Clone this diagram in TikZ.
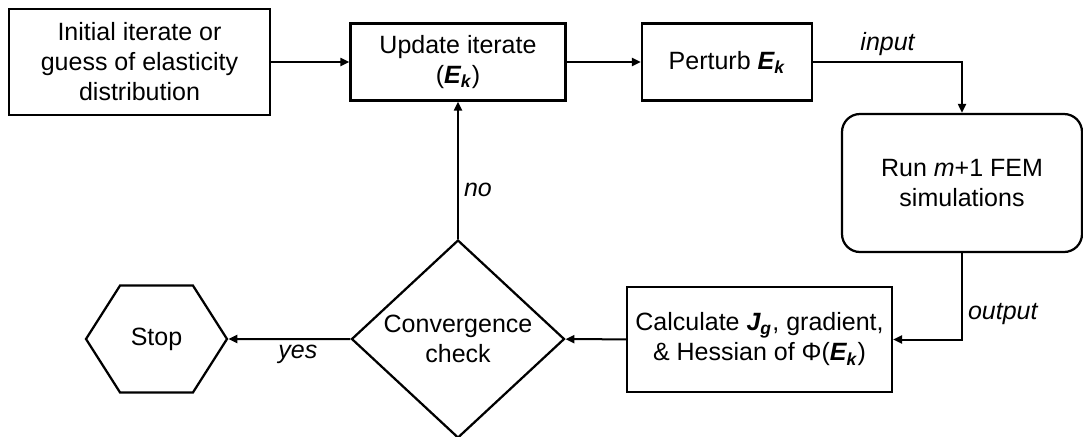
\documentclass[tikz,border=0pt]{standalone}
\usepackage{fontspec}
\setmainfont{Liberation Sans}
\usetikzlibrary{shapes,shapes.symbols,arrows.meta}
\tikzstyle{block} = [draw, rectangle, line width=0.9pt, align=center]
\tikzstyle{roundblock} = [block, rounded corners=7.2pt]
\tikzstyle{decision} = [draw, diamond, line width=0.9pt, align=center, inner sep=0pt, aspect=1.08]
\tikzstyle{terminal} = [draw, signal, signal to=east and west, signal pointer angle=115, line width=0.9pt]
\tikzstyle{lbl} = [font=\itshape, inner sep=2pt]
\newcommand{\Ek}{\textbf{\textit{E\textsubscript{k}}}}
\newcommand{\Jg}{\textbf{\textit{J\textsubscript{g}}}}

\begin{document}
\begin{tikzpicture}[->,>={Triangle[length=3.6pt,width=3.2pt]},line width=0.8pt,node distance=100pt]

    \useasboundingbox (0,0) rectangle (433.2pt,-174.4pt);

    \node [block, minimum width=104.4pt, minimum height=42.4pt, name = init] at (55.8pt,-24.8pt)
    {Initial iterate or\\guess of elasticity\\distribution};
    \node [block, right of = init, xshift = 27.4pt, minimum width=86pt, minimum height=30.8pt,
    name = upd] {Update iterate\\(\Ek)};
    \node [block, right of = upd, xshift = 7.6pt, minimum width=68pt, minimum height=30.8pt,
    name = pert] {Perturb \Ek};

    \node [roundblock, right of = pert, xshift = -6pt, yshift = -48.4pt,
    minimum width=96pt, minimum height=55.2pt, name = fem] {Run \textit{m}+1 FEM\\simulations};
    \node [block, below of = fem, xshift = -81pt, yshift = 37.4pt,
    minimum width=105.2pt, minimum height=42pt, name = calc] {Calculate \Jg, gradient,\\\& Hessian of Φ(\Ek)};

    \node [decision, below of = upd, yshift = -10.8pt, minimum width=85.2pt, minimum height=79.2pt,
    name = conv] {Convergence\\check};
    \node [terminal, left of = conv, xshift = -20.6pt, minimum width=56.4pt, minimum height=42.8pt,
    name = stop] {Stop};

    \draw [->] (init) -- (upd);
    \draw [->] (upd) -- (pert);
    \draw [->] (pert) -| node[lbl, above, pos=0.25] {input} (fem);
    \draw [->] (fem) |- node[lbl, right, pos=0.35] {output} (calc);
    \draw [->] (calc) -- (conv);
    \draw [->] (conv) -- node[lbl, right, pos=0.36] {no} (upd);
    \draw [->] (conv) -- node[lbl, below, pos=0.43] {yes} (stop);

\end{tikzpicture}
\end{document}
